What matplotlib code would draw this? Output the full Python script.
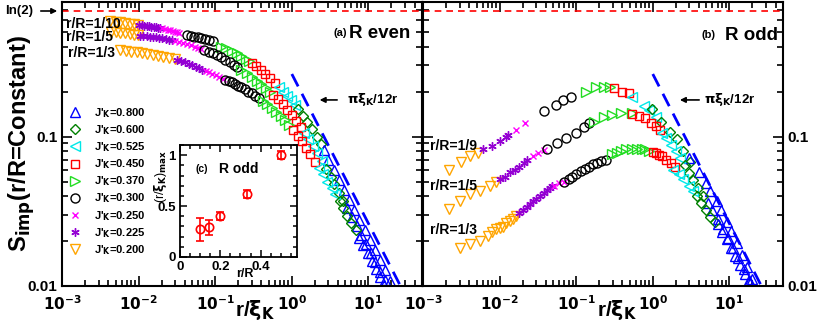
import numpy as np
import matplotlib
matplotlib.use('Agg')
import matplotlib.pyplot as plt
from matplotlib.ticker import LogLocator, MultipleLocator, NullFormatter

plt.rcParams['font.family'] = ['Liberation Sans', 'DejaVu Sans']
plt.rcParams['font.weight'] = 'bold'
plt.rcParams['mathtext.default'] = 'bf'
plt.rcParams['mathtext.fontset'] = 'dejavusans'

# legend order (top to bottom)
J_LABELS = ['0.800', '0.600', '0.525', '0.450', '0.370', '0.300', '0.250', '0.225', '0.200']
# segment order inside each curve: 0.200 ... 0.800
J_ORDER = ['0.200', '0.225', '0.250', '0.300', '0.370', '0.450', '0.525', '0.600', '0.800']

# ---- panel (a) R even ----
even_10_x = [
    [0.0042, 0.0050, 0.0058, 0.0067, 0.0077, 0.0088, 0.0098],
    [0.0102, 0.011, 0.0118, 0.0127, 0.0136, 0.0146, 0.0157, 0.0168, 0.018, 0.019],
    [0.020, 0.022, 0.024, 0.026, 0.028, 0.030, 0.032, 0.034],
    [0.043, 0.048, 0.053, 0.059, 0.066, 0.074, 0.083, 0.093],
    [0.12, 0.14, 0.165, 0.19, 0.22, 0.25, 0.28],
    [0.30, 0.34, 0.39, 0.45, 0.52, 0.60],
    [0.68, 0.77, 0.87, 0.98, 1.1],
    [1.2, 1.4, 1.6, 1.85, 2.1, 2.4],
    [2.6, 3.0, 3.5, 4.1, 4.8, 5.6, 6.5, 7.6, 8.9, 10.4, 12.1, 14.1, 16.5, 19.0],
]
even_10_y = [
    [0.59, 0.585, 0.58, 0.575, 0.57, 0.565, 0.56],
    [0.558, 0.555, 0.552, 0.549, 0.546, 0.543, 0.54, 0.537, 0.534, 0.531],
    [0.528, 0.523, 0.518, 0.513, 0.508, 0.503, 0.498, 0.493],
    [0.478, 0.472, 0.466, 0.46, 0.453, 0.446, 0.44, 0.434],
    [0.40, 0.39, 0.375, 0.36, 0.345, 0.33, 0.318],
    [0.31, 0.295, 0.278, 0.262, 0.245, 0.228],
    [0.213, 0.2, 0.187, 0.175, 0.163],
    [0.153, 0.138, 0.125, 0.112, 0.1, 0.089],
    [0.081, 0.07, 0.06, 0.051, 0.044, 0.0375, 0.032, 0.0276, 0.0236, 0.0202, 0.0174, 0.0149, 0.0127, 0.0108],
]
even_5_x = [
    [0.0043, 0.005, 0.0058, 0.0067, 0.0077, 0.0088, 0.0098],
    [0.0105, 0.0115, 0.0127, 0.014, 0.0155, 0.017, 0.0187, 0.0205, 0.0225, 0.0248, 0.0272],
    [0.030, 0.034, 0.038, 0.043, 0.048, 0.054, 0.060, 0.066],
    [0.072, 0.082, 0.093, 0.105, 0.12, 0.136, 0.155, 0.175, 0.195],
    [0.22, 0.26, 0.30, 0.35, 0.40, 0.46, 0.52],
    [0.57, 0.66, 0.76, 0.87, 1.0, 1.15, 1.3],
    [1.45, 1.65, 1.9, 2.15, 2.45],
    [2.8, 3.2, 3.6, 4.1, 4.7],
    [5.3, 6.1, 7.0, 8.1, 9.3, 10.7, 12.3, 14.2, 16.3],
]
even_5_y = [
    [0.50, 0.497, 0.494, 0.49, 0.485, 0.48, 0.476],
    [0.473, 0.471, 0.469, 0.466, 0.463, 0.46, 0.457, 0.453, 0.449, 0.445, 0.441],
    [0.436, 0.429, 0.422, 0.415, 0.408, 0.40, 0.392, 0.385],
    [0.38, 0.37, 0.36, 0.349, 0.338, 0.326, 0.314, 0.303, 0.293],
    [0.28, 0.265, 0.25, 0.236, 0.223, 0.21, 0.198],
    [0.19, 0.177, 0.164, 0.151, 0.139, 0.127, 0.116],
    [0.106, 0.096, 0.086, 0.077, 0.069],
    [0.061, 0.054, 0.048, 0.042, 0.037],
    [0.033, 0.0288, 0.0252, 0.0218, 0.019, 0.0165, 0.0144, 0.0125, 0.0109],
]
even_3_x = [
    [0.0057, 0.0068, 0.008, 0.0095, 0.011, 0.013, 0.0155, 0.018, 0.021, 0.025, 0.030],
    [0.032, 0.036, 0.040, 0.045, 0.050, 0.056, 0.062, 0.068],
    [0.075, 0.083, 0.092, 0.102, 0.113, 0.125],
    [0.135, 0.15, 0.165, 0.18, 0.20, 0.22, 0.245, 0.27, 0.30, 0.33, 0.37],
    [0.42, 0.48, 0.55, 0.63, 0.72, 0.82, 0.93],
    [1.05, 1.2, 1.35, 1.55, 1.75, 2.0],
    [2.25, 2.55, 2.9, 3.3, 3.7],
    [4.2, 4.7, 5.3, 6.0, 6.8],
    [7.6, 8.6, 9.8, 11.1, 12.6, 14.3, 16.2],
]
even_3_y = [
    [0.38, 0.375, 0.37, 0.365, 0.36, 0.355, 0.35, 0.345, 0.34, 0.335, 0.33],
    [0.326, 0.32, 0.313, 0.306, 0.299, 0.292, 0.286, 0.28],
    [0.276, 0.27, 0.263, 0.256, 0.249, 0.243],
    [0.24, 0.235, 0.23, 0.225, 0.219, 0.213, 0.207, 0.20, 0.194, 0.188, 0.182],
    [0.174, 0.165, 0.156, 0.146, 0.137, 0.128, 0.119],
    [0.11, 0.101, 0.093, 0.084, 0.076, 0.068],
    [0.062, 0.056, 0.05, 0.045, 0.041],
    [0.037, 0.033, 0.0295, 0.0265, 0.0237],
    [0.021, 0.0187, 0.0165, 0.0146, 0.0129, 0.0114, 0.0101],
]

# ---- panel (b) R odd ----
odd_9_x = [
    [0.0022, 0.0031, 0.0041, 0.0052],
    [0.006, 0.0079, 0.010, 0.0123, 0.013],
    [0.0166, 0.0218],
    [0.038, 0.055, 0.068, 0.086],
    [0.134, 0.181, 0.23, 0.28],
    [0.31, 0.40, 0.49],
    [0.53, 0.76, 0.89, 1.1],
    [0.97, 1.27, 1.7, 2.1, 2.5, 3.05],
    [2.95, 4.0, 4.9, 5.6, 6.8, 7.8, 9.2, 10.6, 12.4, 14.5, 16.8, 19.5],
]
odd_9_y = [
    [0.060, 0.068, 0.074, 0.078],
    [0.082, 0.086, 0.093, 0.10, 0.103],
    [0.111, 0.124],
    [0.147, 0.163, 0.176, 0.185],
    [0.20, 0.213, 0.213, 0.213],
    [0.21, 0.20, 0.196],
    [0.185, 0.16, 0.151, 0.136],
    [0.152, 0.126, 0.108, 0.0955, 0.0794, 0.0671],
    [0.072, 0.058, 0.049, 0.043, 0.037, 0.032, 0.027, 0.0235, 0.0195, 0.0162, 0.0135, 0.0112],
]
odd_5_x = [
    [0.0022, 0.003, 0.0041, 0.0055, 0.0074, 0.0091],
    [0.010, 0.0117, 0.0135, 0.0157, 0.018, 0.021, 0.023],
    [0.027, 0.032, 0.038],
    [0.041, 0.057, 0.074, 0.10, 0.127, 0.148],
    [0.17, 0.23, 0.29, 0.39, 0.53],
    [0.53, 0.66, 0.80, 0.96, 1.1, 1.25],
    [1.3, 1.5, 1.75, 2.0, 2.3],
    [2.6, 3.0, 3.4, 3.9, 4.5],
    [5.2, 6.0, 7.0, 8.2, 9.6, 11.2, 13.1, 15.3, 17.8],
]
odd_5_y = [
    [0.0326, 0.0369, 0.041, 0.043, 0.0464, 0.05],
    [0.0517, 0.054, 0.0575, 0.06, 0.063, 0.067, 0.07],
    [0.074, 0.077, 0.081],
    [0.082, 0.091, 0.098, 0.106, 0.116, 0.124],
    [0.126, 0.136, 0.14, 0.144, 0.144],
    [0.142, 0.138, 0.132, 0.124, 0.117, 0.11],
    [0.105, 0.097, 0.088, 0.08, 0.072],
    [0.064, 0.057, 0.051, 0.045, 0.04],
    [0.036, 0.032, 0.028, 0.0242, 0.021, 0.018, 0.0153, 0.013, 0.011],
]
odd_3_x = [
    [0.003, 0.0041, 0.0055, 0.007, 0.008, 0.0091, 0.010, 0.011, 0.0122, 0.0135, 0.015, 0.0166],
    [0.018, 0.020, 0.0225, 0.025, 0.0275, 0.030, 0.034, 0.038, 0.042, 0.046, 0.049],
    [0.052, 0.060, 0.070],
    [0.07, 0.08, 0.089, 0.10, 0.116, 0.13, 0.147, 0.165, 0.187, 0.21, 0.245],
    [0.29, 0.34, 0.39, 0.45, 0.53, 0.62, 0.72, 0.80, 0.89],
    [1.0, 1.1, 1.2, 1.3, 1.5, 1.75, 1.95],
    [1.85, 2.2, 2.5, 2.95, 3.4],
    [3.8, 4.3, 4.9, 5.6, 6.4],
    [7.0, 8.0, 9.2, 10.5, 12.0, 13.8, 15.8, 18.0],
]
odd_3_y = [
    [0.018, 0.019, 0.0199, 0.0215, 0.0228, 0.024, 0.0245, 0.025, 0.0262, 0.0271, 0.0282, 0.0293],
    [0.0307, 0.032, 0.0337, 0.0353, 0.0369, 0.038, 0.0398, 0.0417, 0.0436, 0.0452, 0.0464],
    [0.047, 0.0485, 0.05],
    [0.05, 0.052, 0.054, 0.056, 0.0585, 0.061, 0.063, 0.065, 0.067, 0.0685, 0.07],
    [0.076, 0.078, 0.08, 0.082, 0.083, 0.083, 0.083, 0.082, 0.08],
    [0.079, 0.077, 0.075, 0.074, 0.07, 0.067, 0.063],
    [0.06, 0.056, 0.052, 0.047, 0.043],
    [0.04, 0.036, 0.032, 0.029, 0.027],
    [0.026, 0.023, 0.0205, 0.018, 0.0158, 0.0138, 0.0121, 0.0106],
]

# ---- inset (c) ----
inset_rR = [0.1, 0.143, 0.2, 0.333, 0.5]
inset_rmax = [0.27, 0.29, 0.40, 0.62, 1.0]
inset_err = [0.11, 0.07, 0.04, 0.04, 0.04]

LN2 = np.log(2)

style = {
    '0.800': dict(marker='^', color='#0000ff', ms=7),
    '0.600': dict(marker='D', color='#008000', ms=5),
    '0.525': dict(marker='<', color='#00e8e8', ms=7),
    '0.450': dict(marker='s', color='#ff0000', ms=6),
    '0.370': dict(marker='>', color='#22dd22', ms=7),
    '0.300': dict(marker='o', color='#000000', ms=6.5),
    '0.250': dict(marker='x', color='#ff00ff', ms=5),
    '0.225': dict(marker=(6, 2, 0), color='#9400d3', ms=6),
    '0.200': dict(marker='v', color='#ffa500', ms=7),
}


def draw_curve(ax, xs, ys):
    for j, x, y in zip(J_ORDER, xs, ys):
        s = style[j]
        ax.plot(x, y, linestyle='none', marker=s['marker'], ms=s['ms'],
                mfc='none', mec=s['color'], mew=1.0)


def setup_log(ax, labels_left):
    ax.set_xscale('log')
    ax.set_yscale('log')
    ax.set_xlim(1e-3, 50)
    ax.set_ylim(0.01, 0.8)
    ax.set_xticks([1e-3, 1e-2, 1e-1, 1, 10])
    ax.set_xticklabels([r'$10^{-3}$', r'$10^{-2}$', r'$10^{-1}$', r'$10^{0}$', r'$10^{1}$'])
    ax.set_yticks([0.01, 0.1])
    ax.set_yticklabels(['0.01', '0.1'])
    ax.xaxis.set_minor_locator(LogLocator(base=10, subs=np.arange(2, 10), numticks=20))
    ax.yaxis.set_minor_locator(LogLocator(base=10, subs=np.arange(2, 10), numticks=20))
    ax.xaxis.set_minor_formatter(NullFormatter())
    ax.yaxis.set_minor_formatter(NullFormatter())
    ax.tick_params(which='both', direction='in', top=True, right=True, width=1.2,
                   labelsize=11, labelleft=labels_left, labelright=not labels_left)
    ax.tick_params(axis='x', which='major', pad=6)
    ax.tick_params(which='major', length=7)
    ax.tick_params(which='minor', length=4)
    for sp in ax.spines.values():
        sp.set_linewidth(1.5)


fig = plt.figure(figsize=(8.17, 3.27), dpi=100)
ax1 = fig.add_axes([0.0759, 0.1254, 0.4406, 0.870])
ax2 = fig.add_axes([0.5177, 0.1254, 0.4406, 0.870])

line_x = np.array([1.0, 30.0])
for ax in (ax1, ax2):
    ax.axhline(LN2, color='red', lw=1.2, ls=(0, (4, 3)))
    ax.plot(line_x, np.pi / (12 * line_x), color='#0000ff', lw=2, ls=(0, (5, 3)))

for xs, ys in [(even_10_x, even_10_y), (even_5_x, even_5_y), (even_3_x, even_3_y)]:
    draw_curve(ax1, xs, ys)
for xs, ys in [(odd_9_x, odd_9_y), (odd_5_x, odd_5_y), (odd_3_x, odd_3_y)]:
    draw_curve(ax2, xs, ys)

setup_log(ax1, True)
setup_log(ax2, False)

# legend
handles = []
for j in J_LABELS:
    s = style[j]
    h, = ax1.plot([], [], linestyle='none', marker=s['marker'], ms=s['ms'],
                  mfc='none', mec=s['color'], mew=1.0, label="J'$_K$=" + j)
    handles.append(h)
ax1.legend(handles=handles, loc='upper left', bbox_to_anchor=(0.0, 0.66), frameon=False,
           fontsize=8, handlelength=1.0, handletextpad=1.2, labelspacing=0.3, borderaxespad=0.3)

# panel texts
ax1.text(0.753, 0.889, '(a)', transform=ax1.transAxes, fontsize=8, va='center')
ax1.text(0.797, 0.889, 'R even', transform=ax1.transAxes, fontsize=13.5, va='center')
ax2.text(0.775, 0.882, '(b)', transform=ax2.transAxes, fontsize=8, va='center')
ax2.text(0.839, 0.882, 'R odd', transform=ax2.transAxes, fontsize=13.5, va='center')

for ax, rr in [(ax1, [('r/R=1/10', 0.01, 0.922), ('r/R=1/5', 0.01, 0.876), ('r/R=1/3', 0.018, 0.82)]),
               (ax2, [('r/R=1/9', 0.02, 0.491), ('r/R=1/5', 0.02, 0.351), ('r/R=1/3', 0.02, 0.196)])]:
    for t, x, y in rr:
        ax.text(x, y, t, transform=ax.transAxes, fontsize=10, va='center')

for ax, (head, tail, tx) in [(ax1, (0.708, 0.772, 0.792)), (ax2, (0.706, 0.775, 0.78))]:
    ax.annotate('', xy=(head, 0.654), xytext=(tail, 0.654), xycoords='axes fraction',
                arrowprops=dict(arrowstyle='-|>', color='black', lw=1.2, mutation_scale=8))
    ax.text(tx, 0.654, r'$\pi\xi_K$/12r', transform=ax.transAxes, fontsize=9.5, va='center')

# ln(2) marker on the left
fig.text(5 / 817, 1 - 11 / 327, 'ln(2)', fontsize=9.5, va='center', ha='left')
fig.add_artist(matplotlib.patches.FancyArrowPatch((38 / 817, 1 - 11 / 327), (60 / 817, 1 - 11 / 327),
               transform=fig.transFigure, arrowstyle='-|>', mutation_scale=8, color='black', lw=1.2))

# axis labels
fig.text(22 / 817, 1 - 143 / 327, r'S$_{imp}$(r/R=Constant)', rotation=90, fontsize=17,
         ha='center', va='center')
fig.text(255 / 817, 1 - 310 / 327, r'r/$\xi_K$', fontsize=15, ha='center', va='center')
fig.text(617 / 817, 1 - 310 / 327, r'r/$\xi_K$', fontsize=15, ha='center', va='center')

# inset
axi = fig.add_axes([0.2203, 0.2141, 0.1432, 0.3425])
axi.errorbar(inset_rR, inset_rmax, yerr=inset_err, fmt='o', ms=6, mfc='none', mec='red',
             mew=1.2, ecolor='red', elinewidth=1.2, capsize=3, capthick=1.2)
axi.set_xlim(0, 0.58)
axi.set_ylim(0, 1.1)
axi.set_xticks([0, 0.2, 0.4])
axi.set_xticklabels(['0', '0.2', '0.4'])
axi.set_yticks([0, 0.5, 1])
axi.set_yticklabels(['0', '0.5', '1'])
axi.xaxis.set_minor_locator(MultipleLocator(0.05))
axi.yaxis.set_minor_locator(MultipleLocator(0.1))
axi.tick_params(which='both', direction='in', top=True, right=True, width=1.1, labelsize=9.5, pad=3)
axi.tick_params(which='major', length=5)
axi.tick_params(which='minor', length=3)
for sp in axi.spines.values():
    sp.set_linewidth(1.3)
axi.set_ylabel(r'(r/$\xi_K$)$_{max}$', fontsize=9)
axi.yaxis.set_label_coords(-0.09, 0.72)
axi.text(0.55, -0.1, 'r/R', transform=axi.transAxes, fontsize=9, ha='center', va='top')
axi.text(0.13, 0.79, '(c)', transform=axi.transAxes, fontsize=7.5, va='center')
axi.text(0.33, 0.79, 'R odd', transform=axi.transAxes, fontsize=10, va='center')

fig.savefig('out.png', dpi=100)
